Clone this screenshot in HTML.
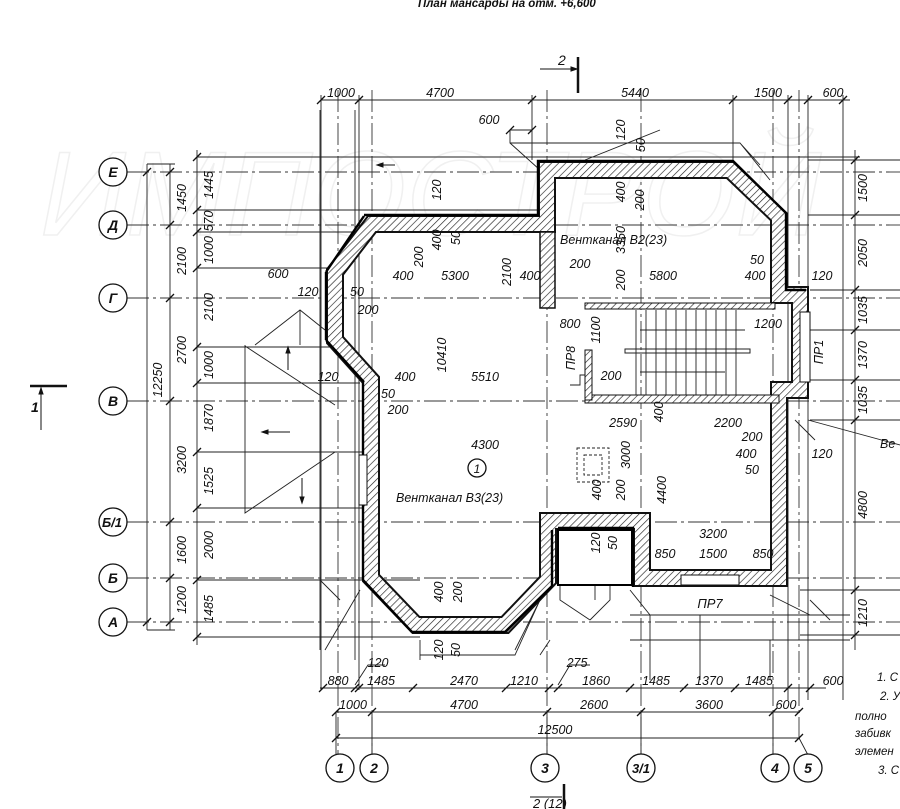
<!DOCTYPE html>
<html><head><meta charset="utf-8"><style>
html,body{margin:0;padding:0;background:#fff;}
svg{display:block;}
text{font-family:"Liberation Sans",sans-serif;font-style:italic;fill:#111;}
</style></head><body>
<svg width="900" height="809" viewBox="0 0 900 809" xmlns="http://www.w3.org/2000/svg">
<defs>
<pattern id="h" width="5" height="5" patternUnits="userSpaceOnUse" patternTransform="rotate(45)">
<rect width="5" height="5" fill="#fff"/><line x1="0" y1="0" x2="0" y2="5" stroke="#222" stroke-width="1.3"/>
</pattern>
</defs>
<!-- watermark -->
<text x="40" y="235" font-size="120" style="fill:none;stroke:#f0f0f0;stroke-width:1.5">ИМПОСТРОЙ</text>
<!-- title -->
<text x="418" y="7" font-size="11.5" font-weight="bold">План мансарды на отм. +6,600</text>

<!-- axis grid lines -->
<g stroke="#333" stroke-width="0.9" stroke-dasharray="22,4,3,4" fill="none">
<line x1="127" y1="172" x2="900" y2="172"/>
<line x1="127" y1="225" x2="900" y2="225"/>
<line x1="127" y1="298" x2="900" y2="298"/>
<line x1="127" y1="401" x2="900" y2="401"/>
<line x1="127" y1="522" x2="900" y2="522"/>
<line x1="127" y1="578" x2="900" y2="578"/>
<line x1="127" y1="622" x2="900" y2="622"/>
<line x1="338" y1="90" x2="338" y2="754"/>
<line x1="372" y1="90" x2="372" y2="754"/>
<line x1="547" y1="90" x2="547" y2="754"/>
<line x1="641" y1="90" x2="641" y2="754"/>
<line x1="773" y1="90" x2="773" y2="754"/>
<line x1="799" y1="90" x2="799" y2="740"/>
</g>

<!-- thin construction / roof lines -->
<g stroke="#222" stroke-width="0.9" fill="none">
<line x1="147" y1="164" x2="147" y2="630"/>
<line x1="170" y1="164" x2="170" y2="630"/>
<line x1="197" y1="150" x2="197" y2="645"/>
<line x1="147" y1="164" x2="175" y2="164"/>
<line x1="147" y1="630" x2="175" y2="630"/>
<path d="M197 157H860M197 210H545M197 232H360M197 268H335M197 347H340M197 383H360M197 452H365M197 508H365M197 580H420M197 637H420"/>
<path d="M321 100H850M510 130H532M321 95V690M359 95V690M532 95V160M733 95V160M788 95V700M808 95V700M843 95V700"/>
<path d="M510 130V143L540 170M510 143H740L770 180M740 143L760 165"/>
<path d="M245 345V513L335 452M245 346L335 405M255 345L300 310L325 330M300 310V345"/>
<path d="M325 650L360 590M340 600L320 580M420 640V660M420 655H515L540 600M550 640L540 655M515 650L540 600"/>
<path d="M560 540V600L590 620M610 540V600L590 620M595 570V600M630 590L650 615M770 595L810 615M810 600L830 620M630 615H850M630 640H850M770 640V680M700 615V680M650 615V680"/>
<path d="M808 420L900 445M795 420L815 440M320 110V650M355 110V660"/>
<path d="M855 150V650M850 160H862M850 215H862M850 290H862M850 330H862M850 380H862M850 420H862M850 590H862M850 635H862"/>
<path d="M808 160H900M808 215H900M810 290H900M810 330H900M810 380H900M810 420H900M800 590H900M800 635H900"/>
<path d="M320 688H826M336 712H800M336 738H800"/>
<path d="M336 712V755M372 712V755M547 712V755M641 712V755M773 712V755M799 738L808 755"/>
<path d="M355 685L368 665H385M558 685L570 665H590"/>
<path d="M585 160L660 130"/>
</g>
<!-- arrows -->
<g stroke="#111" stroke-width="1" fill="#111">
<line x1="265" y1="432" x2="290" y2="432"/><path d="M262 432l6-2v4z"/>
<line x1="302" y1="478" x2="302" y2="500"/><path d="M302 503l-2-6h4z"/>
<line x1="288" y1="350" x2="288" y2="370"/><path d="M288 347l-2 6h4z"/>
<line x1="395" y1="165" x2="380" y2="165"/><path d="M377 165l6-2v4z"/>
<line x1="594" y1="563" x2="594" y2="580"/>
</g>

<!-- tick marks -->
<g stroke="#111" stroke-width="1.3" fill="none">
<path d="M143 176l8-8M143 626l8-8
M166 176l8-8M166 229l8-8M166 302l8-8M166 405l8-8M166 526l8-8M166 582l8-8M166 626l8-8
M193 161l8-8M193 214l8-8M193 236l8-8M193 272l8-8M193 351l8-8M193 387l8-8M193 456l8-8M193 512l8-8M193 584l8-8M193 641l8-8
M317 104l8-8M355 104l8-8M528 104l8-8M729 104l8-8M784 104l8-8M804 104l8-8M839 104l8-8
M506 134l8-8M528 134l8-8
M319 692l8-8M351 692l8-8M355 692l8-8M409 692l8-8M502 692l8-8M545 692l8-8M554 692l8-8M626 692l8-8M680 692l8-8M731 692l8-8M784 692l8-8M806 692l8-8
M332 716l8-8M368 716l8-8M543 716l8-8M637 716l8-8M769 716l8-8M795 716l8-8
M332 742l8-8M795 742l8-8
M851 164l8-8M851 219l8-8M851 294l8-8M851 334l8-8M851 384l8-8M851 424l8-8M851 594l8-8M851 639l8-8"/>
</g>

<!-- walls -->
<g fill="none" stroke-linejoin="miter">
<path d="M372 224H547V170H730L779 217V295H800V390H779V578H642V521H548V580L505 625H416L371 578V380L335 340V272Z" stroke="#111" stroke-width="18"/>
<path d="M372 224H547V170H730L779 217V295H800V390H779V578H642V521H548V580L505 625H416L371 578V380L335 340V272Z" stroke="url(#h)" stroke-width="14"/>
<path d="M364 215H538V161H733L786 213V290H806M326 272L364 216M326 340V272M364 382L326 340M363 580V382M412 632L363 580M505 632H412M552 586L505 632M552 530V586M558 528H633V587" stroke="#000" stroke-width="2.4"/>
<rect x="540" y="232" width="15" height="76" fill="url(#h)" stroke="#111" stroke-width="1.5"/>
<rect x="585" y="303" width="190" height="6" fill="url(#h)" stroke="#111" stroke-width="1"/>
<rect x="585" y="395" width="194" height="8" fill="url(#h)" stroke="#111" stroke-width="1"/>
<rect x="585" y="350" width="7" height="50" fill="url(#h)" stroke="#111" stroke-width="1"/>
<rect x="800" y="312" width="10" height="70" fill="#fff" stroke="#111" stroke-width="1"/>
<rect x="681" y="575" width="58" height="10" fill="#fff" stroke="#111" stroke-width="1"/>
<rect x="558" y="530" width="74" height="55" fill="#fff" stroke="#000" stroke-width="2"/>
<rect x="359" y="455" width="8" height="50" fill="#fff" stroke="#111" stroke-width="1"/>
</g>
<!-- stairs -->
<g stroke="#222" stroke-width="0.9" fill="none">
<path d="M636 310V395M646 310V395M656 310V395M666 310V395M676 310V395M686 310V395M696 310V395M706 310V395M716 310V395M726 310V395M736 310V395"/>
<rect x="625" y="349" width="125" height="4" stroke-width="1"/>
<path d="M640 330H745M640 372H725M570 385H580V375H585"/>
<rect x="577" y="448" width="32" height="34" stroke-dasharray="3,2"/>
<rect x="584" y="455" width="18" height="20" stroke-dasharray="3,2"/>
</g>
<!-- section marks -->
<g stroke="#111" fill="#111">
<line x1="30" y1="386" x2="67" y2="386" stroke-width="2.5"/>
<line x1="41" y1="430" x2="41" y2="390" stroke-width="1"/><path d="M41 388l-2 6h4z"/>
<line x1="578" y1="57" x2="578" y2="93" stroke-width="2.5"/>
<line x1="540" y1="69" x2="575" y2="69" stroke-width="1"/><path d="M577 69l-6-2v4z"/>
<line x1="564" y1="784" x2="564" y2="809" stroke-width="2.5"/>
<line x1="530" y1="797" x2="562" y2="797" stroke-width="1"/>
</g>
<text x="31" y="412" font-size="14" font-weight="bold">1</text>
<text x="558" y="65" font-size="14">2</text>
<text x="533" y="808" font-size="13">2 (12)</text>

<!-- axis circles -->
<g stroke="#111" stroke-width="1.3" fill="#fff">
<circle cx="113" cy="172" r="14"/><circle cx="113" cy="225" r="14"/><circle cx="113" cy="298" r="14"/>
<circle cx="113" cy="401" r="14"/><circle cx="113" cy="522" r="14"/><circle cx="113" cy="578" r="14"/><circle cx="113" cy="622" r="14"/>
<circle cx="340" cy="768" r="14"/><circle cx="374" cy="768" r="14"/><circle cx="545" cy="768" r="14"/>
<circle cx="641" cy="768" r="14"/><circle cx="775" cy="768" r="14"/><circle cx="808" cy="768" r="14"/>
<circle cx="477" cy="468" r="9"/>
</g>
<g font-size="14" text-anchor="middle" font-weight="bold">
<text x="113" y="177">Е</text><text x="113" y="230">Д</text><text x="113" y="303">Г</text>
<text x="113" y="406">В</text><text x="112" y="527" font-size="13">Б/1</text><text x="113" y="583">Б</text><text x="113" y="627">А</text>
<text x="340" y="773">1</text><text x="374" y="773">2</text><text x="545" y="773">3</text>
<text x="641" y="773" font-size="13">3/1</text><text x="775" y="773">4</text><text x="808" y="773">5</text>
<text x="477" y="473" font-size="12" font-weight="normal">1</text>
</g>

<!-- dimension texts horizontal -->
<g font-size="12.5" text-anchor="middle">
<text x="341" y="97">1000</text><text x="440" y="97">4700</text><text x="635" y="97">5440</text><text x="768" y="97">1500</text><text x="833" y="97">600</text>
<text x="489" y="124">600</text>
<text x="278" y="278">600</text><text x="308" y="296">120</text>
<text x="403" y="280">400</text><text x="455" y="280">5300</text><text x="530" y="280">400</text><text x="580" y="268">200</text>
<text x="357" y="296">50</text><text x="368" y="314">200</text>
<text x="328" y="381">120</text><text x="405" y="381">400</text><text x="485" y="381">5510</text>
<text x="388" y="398">50</text><text x="398" y="414">200</text>
<text x="570" y="328">800</text><text x="768" y="328">1200</text>
<text x="663" y="280">5800</text><text x="755" y="280">400</text><text x="757" y="264">50</text><text x="822" y="280">120</text>
<text x="611" y="380">200</text><text x="623" y="427">2590</text><text x="728" y="427">2200</text>
<text x="752" y="441">200</text><text x="746" y="458">400</text><text x="752" y="474">50</text><text x="822" y="458">120</text>
<text x="485" y="449">4300</text>
<text x="713" y="538">3200</text><text x="665" y="558">850</text><text x="713" y="558">1500</text><text x="763" y="558">850</text>
<text x="710" y="608" font-size="13">ПР7</text>
<text x="378" y="667">120</text><text x="577" y="667">275</text>
<text x="338" y="685">880</text><text x="381" y="685">1485</text><text x="464" y="685">2470</text><text x="524" y="685">1210</text>
<text x="596" y="685">1860</text><text x="656" y="685">1485</text><text x="709" y="685">1370</text><text x="759" y="685">1485</text><text x="833" y="685">600</text>
<text x="353" y="709">1000</text><text x="464" y="709">4700</text><text x="594" y="709">2600</text><text x="709" y="709">3600</text><text x="786" y="709">600</text>
<text x="555" y="734">12500</text>
</g>
<text x="560" y="244" font-size="12.5">Вентканал В2(23)</text>
<text x="396" y="502" font-size="12.5">Вентканал В3(23)</text>
<text x="880" y="448" font-size="12.5">Ве</text>
<g font-size="11.5">
<text x="877" y="681">1. С</text><text x="880" y="700">2. У</text><text x="855" y="720">полно</text>
<text x="855" y="737">забивк</text><text x="855" y="755">элемен</text><text x="878" y="774">3. С</text>
</g>

<!-- vertical dimension texts -->
<g font-size="12.5" text-anchor="middle">
<text transform="translate(162,380) rotate(-90)">12250</text>
<text transform="translate(186,198) rotate(-90)">1450</text>
<text transform="translate(186,261) rotate(-90)">2100</text>
<text transform="translate(186,350) rotate(-90)">2700</text>
<text transform="translate(186,460) rotate(-90)">3200</text>
<text transform="translate(186,550) rotate(-90)">1600</text>
<text transform="translate(186,600) rotate(-90)">1200</text>
<text transform="translate(213,185) rotate(-90)">1445</text>
<text transform="translate(213,221) rotate(-90)">570</text>
<text transform="translate(213,250) rotate(-90)">1000</text>
<text transform="translate(213,307) rotate(-90)">2100</text>
<text transform="translate(213,365) rotate(-90)">1000</text>
<text transform="translate(213,418) rotate(-90)">1870</text>
<text transform="translate(213,481) rotate(-90)">1525</text>
<text transform="translate(213,545) rotate(-90)">2000</text>
<text transform="translate(213,609) rotate(-90)">1485</text>
<text transform="translate(441,190) rotate(-90)">120</text>
<text transform="translate(441,240) rotate(-90)">400</text>
<text transform="translate(460,238) rotate(-90)">50</text>
<text transform="translate(423,257) rotate(-90)">200</text>
<text transform="translate(446,355) rotate(-90)">10410</text>
<text transform="translate(511,272) rotate(-90)">2100</text>
<text transform="translate(575,358) rotate(-90)">ПР8</text>
<text transform="translate(600,330) rotate(-90)">1100</text>
<text transform="translate(625,130) rotate(-90)">120</text>
<text transform="translate(645,145) rotate(-90)">50</text>
<text transform="translate(625,192) rotate(-90)">400</text>
<text transform="translate(644,200) rotate(-90)">200</text>
<text transform="translate(625,240) rotate(-90)">3350</text>
<text transform="translate(625,280) rotate(-90)">200</text>
<text transform="translate(823,352) rotate(-90)">ПР1</text>
<text transform="translate(663,412) rotate(-90)">400</text>
<text transform="translate(630,455) rotate(-90)">3000</text>
<text transform="translate(601,490) rotate(-90)">400</text>
<text transform="translate(625,490) rotate(-90)">200</text>
<text transform="translate(666,490) rotate(-90)">4400</text>
<text transform="translate(600,543) rotate(-90)">120</text>
<text transform="translate(617,543) rotate(-90)">50</text>
<text transform="translate(443,592) rotate(-90)">400</text>
<text transform="translate(462,592) rotate(-90)">200</text>
<text transform="translate(443,650) rotate(-90)">120</text>
<text transform="translate(460,650) rotate(-90)">50</text>
<text transform="translate(867,188) rotate(-90)">1500</text>
<text transform="translate(867,253) rotate(-90)">2050</text>
<text transform="translate(867,310) rotate(-90)">1035</text>
<text transform="translate(867,355) rotate(-90)">1370</text>
<text transform="translate(867,400) rotate(-90)">1035</text>
<text transform="translate(867,505) rotate(-90)">4800</text>
<text transform="translate(867,613) rotate(-90)">1210</text>
</g>
</svg>
</body></html>
